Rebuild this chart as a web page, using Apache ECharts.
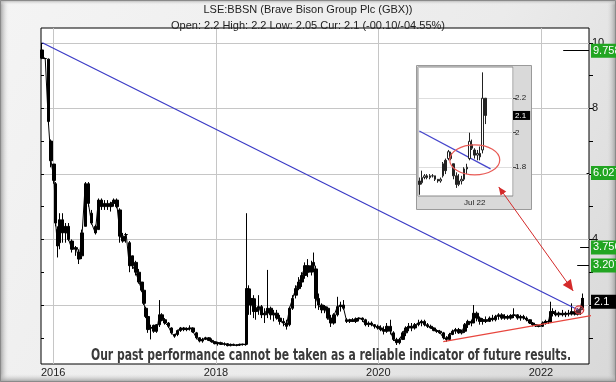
<!DOCTYPE html>
<html><head><meta charset="utf-8">
<script src="https://cdn.jsdelivr.net/npm/echarts@6.0.0/dist/echarts.min.js"></script>
<style>html,body{margin:0;padding:0;background:#e6e6e6;}#chart{width:616px;height:382px;}</style>
</head><body><div id="chart"></div>
<script>
// ---------- main price series (OHLC) ----------
const mainDates = ['2015-11-12','2015-11-26','2015-12-10','2015-12-22','2016-01-05','2016-01-12','2016-01-20','2016-01-30','2016-02-12','2016-02-26',
'2016-03-10','2016-03-25','2016-04-12','2016-04-26','2016-05-10','2016-05-24','2016-06-07','2016-06-21','2016-07-08','2016-07-22',
'2016-08-05','2016-08-19','2016-09-02','2016-09-16','2016-09-30','2016-10-14','2016-10-28','2016-11-10','2016-11-24','2016-12-08',
'2016-12-22','2017-01-06','2017-01-20','2017-02-03','2017-02-12','2017-02-22','2017-03-01','2017-03-15','2017-03-29','2017-04-10',
'2017-04-22','2017-05-04','2017-05-18','2017-06-01','2017-06-15','2017-06-29','2017-07-13','2017-07-27','2017-08-10','2017-08-24',
'2017-09-07','2017-09-21','2017-10-05','2017-10-19','2017-11-02','2017-11-16','2017-11-30','2017-12-14','2017-12-28','2018-01-11',
'2018-01-25','2018-02-08','2018-02-22','2018-03-08','2018-03-22','2018-04-05','2018-04-19','2018-05-03','2018-05-14','2018-05-18',
'2018-05-28','2018-06-07','2018-06-18','2018-06-30','2018-07-12','2018-07-26','2018-08-09','2018-08-22','2018-09-05','2018-09-19',
'2018-10-03','2018-10-17','2018-10-31','2018-11-14','2018-11-28','2018-12-12','2018-12-26','2019-01-09','2019-01-23','2019-02-06',
'2019-02-20','2019-03-06','2019-03-16','2019-03-27','2019-04-08','2019-04-22','2019-05-06','2019-05-20','2019-06-03','2019-06-17',
'2019-07-01','2019-07-15','2019-07-29','2019-08-12','2019-08-26','2019-09-09','2019-09-23','2019-10-07','2019-10-21','2019-11-04',
'2019-11-18','2019-12-02','2019-12-16','2019-12-30','2020-01-13','2020-01-27','2020-02-10','2020-02-24','2020-03-09','2020-03-23',
'2020-04-06','2020-04-20','2020-05-04','2020-05-18','2020-06-01','2020-06-15','2020-06-29','2020-07-13','2020-07-27','2020-08-10',
'2020-08-24','2020-09-07','2020-09-21','2020-10-05','2020-10-19','2020-11-02','2020-11-16','2020-11-30','2020-12-14','2020-12-28',
'2021-01-11','2021-01-25','2021-02-08','2021-02-22','2021-03-05','2021-03-19','2021-04-02','2021-04-16','2021-04-30','2021-05-14',
'2021-05-28','2021-06-11','2021-06-25','2021-07-09','2021-07-23','2021-08-06','2021-08-20','2021-09-03','2021-09-17','2021-10-01',
'2021-10-15','2021-10-29','2021-11-12','2021-11-26','2021-12-10','2021-12-24','2022-01-07','2022-01-21','2022-02-04','2022-02-12',
'2022-02-24','2022-03-10','2022-03-24','2022-04-07','2022-04-21','2022-05-05','2022-05-19','2022-06-02','2022-06-16','2022-06-27',
'2022-07-06','2022-07-07'];
const mainOpen = [9.78,9.52,9.5,7.0,6.3,5.7,4.3,3.9,4.6,4.2,
4.4,3.95,3.7,3.6,3.5,4.4,5.7,4.8,4.4,4.3,
5.2,5.0,5.1,5.0,5.1,5.2,4.9,4.1,4.15,3.9,
3.5,3.3,3.0,2.7,2.45,1.9,1.65,1.3,1.2,1.4,
1.4,1.7,1.55,1.45,1.3,1.1,1.1,1.22,1.3,1.25,
1.28,1.3,1.15,1.0,0.9,0.95,1.0,0.92,0.88,0.82,
0.85,0.8,0.82,0.76,0.8,0.77,0.78,0.8,0.8,0.8,
2.5,2.0,2.2,1.8,1.9,1.95,1.7,1.75,1.9,1.7,
1.75,1.6,1.5,1.45,1.4,1.9,2.3,2.5,2.7,2.9,
3.2,3.0,3.2,3.1,2.2,2.0,1.85,1.9,1.6,1.45,
1.7,1.95,2.0,1.55,1.5,1.55,1.5,1.58,1.6,1.55,
1.4,1.45,1.4,1.35,1.3,1.25,1.2,1.35,1.15,0.95,
0.85,0.95,1.15,1.3,1.35,1.3,1.4,1.45,1.5,1.4,
1.35,1.3,1.22,1.2,1.15,1.0,0.95,1.1,1.2,1.25,
1.15,1.2,1.4,1.5,1.45,1.75,1.6,1.5,1.55,1.5,
1.6,1.55,1.65,1.7,1.6,1.65,1.6,1.68,1.7,1.6,
1.65,1.6,1.55,1.45,1.4,1.36,1.35,1.45,1.5,1.48,
1.8,1.75,1.7,1.75,1.7,1.75,1.72,1.8,1.72,1.85,
1.9,2.2];
const mainHigh = [10.0,9.55,9.52,7.05,6.3,5.75,4.4,4.8,4.8,4.5,
4.5,4.0,3.8,3.7,4.3,5.75,5.75,4.9,4.45,5.25,
5.25,5.2,5.2,5.15,5.25,5.25,4.95,4.2,4.2,3.95,
3.5,3.35,3.1,2.7,2.5,1.95,1.65,1.4,1.4,1.42,
2.15,1.75,1.6,1.48,1.32,1.12,1.25,1.33,1.33,1.32,
1.38,1.32,1.18,1.02,1.0,1.03,1.02,0.98,0.9,0.88,
0.88,0.86,0.84,0.82,0.82,0.8,0.82,0.82,0.82,4.8,
2.6,2.5,2.3,2.2,2.3,2.0,1.9,3.07,1.95,1.85,
1.85,1.7,1.6,1.55,1.95,2.3,2.6,2.85,3.0,3.3,
3.4,3.35,3.6,3.2,2.35,2.05,2.0,1.95,1.7,1.75,
2.25,2.1,2.15,1.6,1.58,1.6,1.62,1.62,1.62,1.58,
1.5,1.5,1.42,1.4,1.38,1.35,1.45,1.55,1.2,1.0,
1.0,1.2,1.35,1.45,1.45,1.45,1.55,1.55,1.55,1.45,
1.4,1.32,1.26,1.24,1.18,1.05,1.15,1.25,1.3,1.3,
1.25,1.45,1.55,1.55,2.0,1.8,1.65,1.6,1.65,1.65,
1.7,1.7,1.75,1.75,1.72,1.7,1.72,1.9,1.72,1.7,
1.7,1.65,1.56,1.48,1.42,1.4,1.5,1.55,1.55,2.1,
1.9,1.85,1.8,1.85,1.8,1.85,2.05,1.85,1.9,1.95,
2.35,2.2];
const mainLow = [9.5,9.5,7.5,6.2,5.7,4.4,3.45,3.7,3.9,3.9,
3.95,3.6,3.5,3.25,3.4,4.4,5.0,4.45,4.15,4.3,
4.9,4.9,4.9,4.85,5.0,4.95,3.9,3.9,3.9,3.0,
3.1,2.9,2.65,2.4,2.0,1.6,1.15,0.95,1.15,1.15,
1.33,1.5,1.4,1.3,1.1,1.0,1.05,1.18,1.2,1.2,
1.22,1.15,0.95,0.86,0.85,0.93,0.9,0.85,0.8,0.76,
0.78,0.76,0.74,0.74,0.75,0.74,0.75,0.76,0.76,0.78,
1.7,1.7,1.6,1.55,1.7,1.6,1.45,1.6,1.55,1.5,
1.55,1.4,1.35,1.25,1.35,1.85,2.2,2.45,2.55,2.8,
2.85,2.9,3.0,1.9,1.85,1.75,1.75,1.55,1.33,1.4,
1.65,1.8,1.85,1.45,1.45,1.48,1.45,1.5,1.48,1.35,
1.33,1.35,1.28,1.25,1.2,1.1,1.15,1.1,0.9,0.78,
0.8,0.93,1.05,1.2,1.2,1.25,1.35,1.35,1.35,1.3,
1.28,1.2,1.15,1.12,0.95,0.88,0.92,1.08,1.12,1.12,
1.1,1.15,1.3,1.35,1.45,1.5,1.4,1.4,1.45,1.48,
1.5,1.5,1.55,1.55,1.55,1.55,1.55,1.6,1.55,1.52,
1.55,1.5,1.42,1.35,1.33,1.32,1.33,1.4,1.42,1.45,
1.65,1.65,1.63,1.65,1.63,1.65,1.68,1.68,1.68,1.7,
1.85,2.05];
const mainClose = [9.53,9.52,7.6,6.4,5.8,4.5,3.8,4.6,4.2,4.4,
4.0,3.7,3.75,3.4,4.2,5.7,5.1,4.5,4.2,5.2,
5.0,5.1,5.0,5.1,5.2,5.0,4.1,3.95,4.15,3.2,
3.2,3.0,2.7,2.45,2.05,1.65,1.25,1.3,1.38,1.2,
1.7,1.55,1.45,1.35,1.15,1.05,1.22,1.3,1.25,1.28,
1.3,1.18,1.0,0.9,0.95,1.0,0.92,0.88,0.82,0.85,
0.8,0.82,0.76,0.8,0.77,0.78,0.8,0.8,0.79,2.5,
2.0,2.2,1.8,1.9,1.95,1.7,1.75,1.9,1.7,1.75,
1.6,1.5,1.45,1.35,1.9,2.2,2.5,2.7,2.9,3.2,
3.0,3.2,3.3,2.2,2.0,1.85,1.95,1.6,1.45,1.7,
1.95,2.0,1.9,1.5,1.55,1.5,1.58,1.6,1.55,1.4,
1.45,1.4,1.35,1.3,1.25,1.2,1.35,1.2,0.95,0.85,
0.95,1.15,1.3,1.35,1.3,1.4,1.45,1.5,1.4,1.35,
1.3,1.22,1.2,1.15,1.0,0.95,1.1,1.2,1.25,1.15,
1.2,1.4,1.5,1.45,1.75,1.6,1.5,1.55,1.5,1.6,
1.55,1.65,1.7,1.6,1.65,1.6,1.68,1.7,1.6,1.65,
1.6,1.55,1.45,1.4,1.36,1.35,1.45,1.5,1.48,1.8,
1.75,1.7,1.75,1.7,1.75,1.72,1.8,1.72,1.85,1.88,
2.2,2.1];

// ---------- inset (last weeks, trading days) ----------
const insetDates = ['2022-05-31','2022-06-01','2022-06-06','2022-06-07','2022-06-08','2022-06-09','2022-06-10','2022-06-13','2022-06-14','2022-06-15',
'2022-06-16','2022-06-17','2022-06-20','2022-06-21','2022-06-22','2022-06-23','2022-06-24','2022-06-27','2022-06-28','2022-06-29',
'2022-06-30','2022-07-01','2022-07-04','2022-07-05','2022-07-06','2022-07-07','2022-07-08','2022-07-11','2022-07-12','2022-07-13',
'2022-07-14','2022-07-15','2022-07-18','2022-07-19','2022-07-20','2022-07-21'];
const insetOpen  = [1.72,1.71,1.74,1.75,1.74,1.75,1.75,1.73,1.72,1.75,1.84,1.85,1.88,1.82,1.75,1.70,1.72,1.73,1.79,1.85,1.93,1.90,1.87,1.88,1.90,2.20];
const insetHigh  = [1.74,1.78,1.76,1.76,1.76,1.76,1.75,1.73,1.74,1.83,1.85,1.90,1.89,1.82,1.77,1.76,1.75,1.80,1.82,2.00,1.96,1.91,1.90,1.92,2.35,2.20];
const insetLow   = [1.64,1.70,1.73,1.73,1.73,1.74,1.72,1.71,1.71,1.74,1.76,1.84,1.84,1.73,1.68,1.69,1.70,1.72,1.76,1.84,1.90,1.85,1.84,1.84,1.88,2.05];
const insetClose = [1.70,1.74,1.75,1.74,1.75,1.75,1.73,1.72,1.73,1.82,1.78,1.89,1.85,1.75,1.70,1.72,1.73,1.79,1.80,1.95,1.91,1.87,1.88,1.86,2.20,2.10];

// ---------- trend lines, levels ----------
const blueDates = ['2015-11-13','2022-06-18'];
const blueValues = [10.0, 1.85];
const redDates = ['2020-10-19','2022-09-01'];
const redValues = [0.88, 1.695];
const insetBlueDates = ['2022-05-31','2022-07-11'];
const insetBlueValues = [2.01, 1.79];
const levelValues = [9.758, 6.027, 3.756, 3.207];
const levelStart = ['2022-04-11','2022-07-25','2022-06-26','2022-06-13'];
const levelEnd = '2022-08-05';
const currentPrice = 2.1;
const circleDate = '2022-06-22';
const circleValue = 1.85;
const ellipseDate = '2022-07-01';
const ellipseValue = 1.842;

// ---------- axes ----------
const yearTicks = ['2016-01-01','2018-01-01','2020-01-01','2022-01-01'];
const yMinor = [1,2,3,4,5,6,7,8,9,10];
const yLabels = [2,4,6,8,10];
const insetTicks = [1.8,2.0,2.2];
const insetMarkDate = '2022-07-01';

const ts = d => new Date(d + 'T00:00:00Z').getTime();
const FONT = '"Liberation Sans", Arial, sans-serif';
const xMin = ts('2015-11-07'), xMax = ts('2022-08-05');
const yMin = 0.2, yMax = 10.45;
const iyMin = 1.633, iyMax = 2.381;

const chart = echarts.init(document.getElementById('chart'), null, {renderer: 'canvas'});

function yAx(extra) {
  return Object.assign({type: 'value', gridIndex: 0, min: yMin, max: yMax, position: 'right',
    axisLine: {show: false}, axisTick: {show: false}, axisLabel: {show: false}, splitLine: {show: false}}, extra);
}
const markIdx = insetDates.indexOf(insetMarkDate);

const option = {
  animation: false,
  backgroundColor: {type: 'linear', x: 0, y: 0, x2: 1, y2: 1,
    colorStops: [{offset: 0, color: '#f4f4f4'}, {offset: 0.6, color: '#ebebeb'}, {offset: 1, color: '#d8d8d8'}]},
  grid: [
    {left: 41, top: 28, width: 548, height: 336, show: true, backgroundColor: '#ffffff', borderColor: '#000', borderWidth: 1, containLabel: false, outerBoundsMode: 'none'},
    {left: 418, top: 67, width: 95, height: 129, show: true, backgroundColor: '#ffffff', borderColor: '#8a8a8a', borderWidth: 1, z: 5, containLabel: false, outerBoundsMode: 'none'}
  ],
  xAxis: [
    {type: 'value', gridIndex: 0, min: xMin, max: xMax, axisLine: {show: false},
     axisTick: {show: false, customValues: yearTicks.map(ts)},
     axisLabel: {customValues: yearTicks.map(ts), formatter: v => String(new Date(v).getUTCFullYear()), color: '#222', fontSize: 11, fontFamily: FONT, margin: 3},
     splitLine: {show: true, lineStyle: {color: '#c6c6c6', width: 1}}},
    {type: 'category', gridIndex: 1, data: insetDates, boundaryGap: true, z: 6, axisLine: {show: false}, axisTick: {show: false},
     axisLabel: {interval: (i) => i === markIdx, formatter: () => 'Jul 22', color: '#222', fontSize: 8, fontFamily: FONT, margin: 3},
     splitLine: {show: true, interval: (i) => i === markIdx, lineStyle: {color: '#c8c8c8'}}}
  ],
  yAxis: [
    yAx({axisTick: {show: true, customValues: yMinor, length: 4, inside: false, lineStyle: {color: '#000'}},
         axisLabel: {show: true, customValues: yLabels, color: '#111', fontSize: 11, fontFamily: FONT, margin: 3}}),
    yAx({position: 'left', axisTick: {show: true, customValues: yMinor, length: 3, inside: true, lineStyle: {color: '#000'}}}),
    yAx({axisTick: {show: false, customValues: yLabels}, splitLine: {show: true, lineStyle: {color: '#c6c6c6', width: 1}}}),
    yAx({z: 3, axisLabel: {show: true, customValues: levelValues, formatter: v => v.toFixed(3), color: '#fff', fontSize: 11, fontFamily: FONT,
         backgroundColor: '#22a522', padding: [2, 12, 1, 2], margin: 2}}),
    yAx({z: 3, axisLabel: {show: true, customValues: [currentPrice], formatter: v => String(v), color: '#fff', fontSize: 11, fontFamily: FONT,
         backgroundColor: '#000', padding: [2, 16, 1, 3], margin: 2}}),
    {type: 'value', gridIndex: 1, min: iyMin, max: iyMax, position: 'right', z: 6,
     axisLine: {show: false},
     axisTick: {show: true, customValues: insetTicks, length: 3, lineStyle: {color: '#444'}},
     axisLabel: {customValues: insetTicks, formatter: v => (v === 2 ? '2' : v.toFixed(1)), color: '#222', fontSize: 8, fontFamily: FONT, margin: 2},
     splitLine: {show: true, lineStyle: {color: '#dedede'}}},
    {type: 'value', gridIndex: 1, min: iyMin, max: iyMax, position: 'right', z: 7,
     axisLine: {show: false}, axisTick: {show: false}, splitLine: {show: false},
     axisLabel: {customValues: [currentPrice], formatter: v => String(v), color: '#fff', fontSize: 8, fontFamily: FONT,
                 backgroundColor: '#000', padding: [1, 4, 0, 2], margin: 0}}
  ],
  series: [
    {type: 'line', name: 'BBSN close', xAxisIndex: 0, yAxisIndex: 0, symbol: 'none', z: 2,
     data: mainDates.map((d, i) => [ts(d), mainClose[i]]),
     lineStyle: {color: '#000', width: 1}},
    {type: 'candlestick', name: 'BBSN', xAxisIndex: 0, yAxisIndex: 0, barWidth: 3, z: 2,
     data: mainDates.map((d, i) => [ts(d), mainOpen[i], mainClose[i], mainLow[i], mainHigh[i]]),
     itemStyle: {color: '#000', color0: '#000', borderColor: '#000', borderColor0: '#000', borderWidth: 1}},
    {type: 'line', name: 'trend', xAxisIndex: 0, yAxisIndex: 0, symbol: 'none', z: 3,
     data: blueDates.map((d, i) => [ts(d), blueValues[i]]),
     lineStyle: {color: '#3b3bc6', width: 1.2},
     markLine: {silent: true, symbol: 'none', label: {show: false}, lineStyle: {color: '#000', width: 1, type: 'solid'},
       data: levelValues.map((v, i) => [{coord: [ts(levelStart[i]), v]}, {coord: [ts(levelEnd), v]}])}},
    {type: 'line', name: 'support', xAxisIndex: 0, yAxisIndex: 0, symbol: 'none', clip: false, z: 3,
     data: redDates.map((d, i) => [ts(d), redValues[i]]),
     lineStyle: {color: '#e8463e', width: 1.3}},
    {type: 'candlestick', name: 'inset', xAxisIndex: 1, yAxisIndex: 5, barWidth: 2, z: 8,
     data: insetOpen.map((o, i) => [o, insetClose[i], insetLow[i], insetHigh[i]]),
     itemStyle: {color: '#fff', color0: '#222', borderColor: '#222', borderColor0: '#222', borderWidth: 1}},
    {type: 'line', name: 'insetTrend', xAxisIndex: 1, yAxisIndex: 5, symbol: 'none', z: 8,
     data: insetBlueDates.map((d, i) => [insetDates.indexOf(d), insetBlueValues[i]]),
     lineStyle: {color: '#4646cc', width: 1.3}}
  ]
};
chart.setOption(option);

// ---------- annotations placed through the chart's own scales ----------
const cpt = chart.convertToPixel({xAxisIndex: 0, yAxisIndex: 0}, [ts(circleDate), circleValue]);
const ept = chart.convertToPixel({xAxisIndex: 1, yAxisIndex: 5}, [insetDates.indexOf(ellipseDate), ellipseValue]);
const a0 = [ept[0] + 24, ept[1] + 27];
const a1 = [cpt[0] - 6, cpt[1] - 19];
function head(tip, from, len, half) {
  const dx = tip[0] - from[0], dy = tip[1] - from[1], L = Math.hypot(dx, dy);
  const ux = dx / L, uy = dy / L;
  const bx = tip[0] - ux * len, by = tip[1] - uy * len;
  return [[tip[0], tip[1]], [bx - uy * half, by + ux * half], [bx + uy * half, by - ux * half]];
}
const disclaimer = 'Our past performance cannot be taken as a reliable indicator of future results.';
const dFont = 'bold 16px "Liberation Sans Narrow", "DejaVu Sans Condensed", "Liberation Sans", sans-serif';
const ctx = document.createElement('canvas').getContext('2d');
ctx.font = dFont;
const dScale = 480 / ctx.measureText(disclaimer).width;
const edge = (x, y, x2, y2, c1, c2) => ({type: 'linear', x: x, y: y, x2: x2, y2: y2, colorStops: [{offset: 0, color: c1}, {offset: 1, color: c2}]});

chart.setOption({
  graphic: [
    {type: 'rect', z: -1, silent: true, shape: {x: 0, y: 0, width: 9, height: 382}, style: {fill: edge(0, 0, 1, 0, '#9c9c9c', 'rgba(236,236,236,0)')}},
    {type: 'rect', z: -1, silent: true, shape: {x: 607, y: 0, width: 9, height: 382}, style: {fill: edge(0, 0, 1, 0, 'rgba(220,220,220,0)', '#9c9c9c')}},
    {type: 'rect', z: -1, silent: true, shape: {x: 0, y: 0, width: 616, height: 5}, style: {fill: edge(0, 0, 0, 1, '#a8a8a8', 'rgba(240,240,240,0)')}},
    {type: 'rect', z: -1, silent: true, shape: {x: 0, y: 374, width: 616, height: 8}, style: {fill: edge(0, 0, 0, 1, 'rgba(220,220,220,0)', '#9c9c9c')}},
    {type: 'rect', z: -1, silent: true, shape: {x: 0.5, y: 0.5, width: 615, height: 381}, style: {fill: null, stroke: '#8a8a8a', lineWidth: 1}},
    {type: 'rect', z: 4, silent: true, shape: {x: 416.5, y: 65.5, width: 115, height: 144}, style: {fill: '#d9d9d9', stroke: '#9a9a9a', lineWidth: 1}},
    {type: 'text', z: 10, left: 'center', top: 4, silent: true,
     style: {text: 'LSE:BBSN (Brave Bison Group Plc (GBX))', font: '11px ' + FONT, fill: '#222'}},
    {type: 'text', z: 10, left: 'center', top: 20, silent: true,
     style: {text: 'Open: 2.2 High: 2.2 Low: 2.05 Cur: 2.1 (-00.10/-04.55%)', font: '11px ' + FONT, fill: '#222'}},
    {type: 'text', z: 20, silent: true, x: 331, y: 356, scaleX: dScale,
     style: {text: disclaimer, font: dFont, fill: '#3a3a3a', align: 'center', verticalAlign: 'middle'}},
    {type: 'ellipse', z: 12, silent: true, shape: {cx: ept[0], cy: ept[1], rx: 25, ry: 15}, style: {fill: null, stroke: '#e85a55', lineWidth: 1.2}},
    {type: 'ellipse', z: 12, silent: true, shape: {cx: cpt[0], cy: cpt[1], rx: 4.5, ry: 4}, style: {fill: 'rgba(240,120,140,0.35)', stroke: '#d83a3a', lineWidth: 1.2}},
    {type: 'line', z: 12, silent: true, shape: {x1: a0[0], y1: a0[1], x2: a1[0], y2: a1[1]}, style: {stroke: '#d42a2a', lineWidth: 1}},
    {type: 'polygon', z: 12, silent: true, shape: {points: head(a1, a0, 11, 5)}, style: {fill: '#d42a2a'}},
    {type: 'polygon', z: 12, silent: true, shape: {points: head(a0, a1, 8, 3.5)}, style: {fill: '#d42a2a'}}
  ]
});
</script></body></html>
